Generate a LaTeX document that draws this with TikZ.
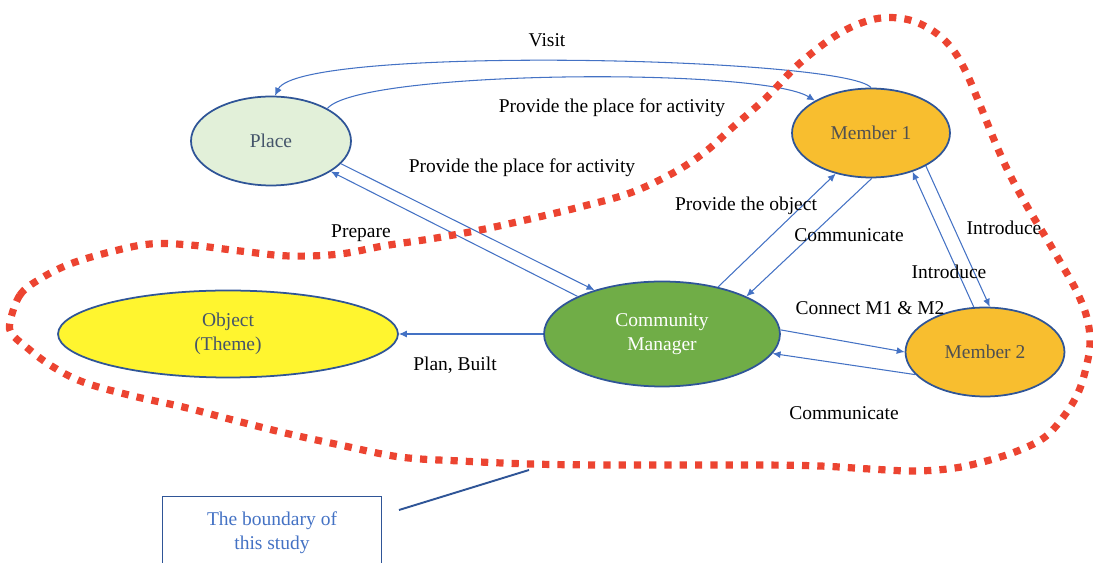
\documentclass[tikz,border=0pt]{standalone}
\usepackage{fontspec}
\setmainfont{Liberation Serif}
\usetikzlibrary{shapes.geometric,arrows.meta}
\definecolor{edgeblue}{HTML}{4472C4}
\definecolor{borderblue}{HTML}{2F5597}
\definecolor{boundred}{HTML}{EC4431}
\definecolor{placefill}{HTML}{E2F0D9}
\definecolor{memberfill}{HTML}{F8BE2F}
\definecolor{cmfill}{HTML}{70AD47}
\definecolor{objfill}{HTML}{FFF52F}
\definecolor{slate}{HTML}{44546A}
\definecolor{darkgray}{HTML}{505050}
\begin{document}
\begin{tikzpicture}[x=0.02cm,y=-0.02cm,
  font=\fontsize{11.1}{13.6}\selectfont,
  ell/.style={ellipse, draw=borderblue, line width=1pt, inner sep=0pt, align=center},
  arr/.style={draw=edgeblue, line width=0.6pt, -{Latex[length=4.5pt,width=4pt]}},
  lbl/.style={inner sep=0pt, text=black},
  bound/.style={draw=boundred, line width=4.1pt, dash pattern=on 4.1pt off 4.6pt}]
\useasboundingbox (0,0) rectangle (1093,563);

% nodes
\node[ell, fill=placefill, text=slate, minimum width=3.2cm, minimum height=1.78cm] (place) at (271,141) {Place};
\node[ell, fill=memberfill, text=darkgray, minimum width=3.16cm, minimum height=1.78cm] (m1) at (871,133) {Member 1};
\node[ell, fill=cmfill, text=white, minimum width=4.72cm, minimum height=2.1cm] (cm) at (662,334) {Community\\Manager};
\node[ell, fill=objfill, text=slate, minimum width=6.8cm, minimum height=1.74cm] (obj) at (228,334) {Object\\(Theme)};
\node[ell, fill=memberfill, text=darkgray, minimum width=3.18cm, minimum height=1.78cm] (m2) at (985,352) {Member 2};

% boundary box
\node[draw=borderblue, line width=1pt, minimum width=4.38cm, minimum height=1.46cm, text=edgeblue, align=center, inner sep=0pt] (box) at (272,533) {The boundary of\\this study};
\coordinate (bA) at (399,510);
\coordinate (bB) at (529,470);
\draw[draw=borderblue, line width=1.1pt] (bA) -- (bB);

% edges
\draw[arr] (m1.90) .. controls (845,57) and (300,45) .. (place.85);
\draw[arr] (place.30) .. controls (360,70) and (760,67) .. (m1.150);
\draw[arr] (cm.156) -- (place.-27);
\draw[arr] (place.-18) -- (cm.147);
\draw[arr] (cm.40) -- (m1.-131);
\draw[arr] (m1.-89) -- (cm.24);
\draw[arr] (m1.-31) -- (m2.84);
\draw[arr] (m2.104) -- (m1.-43);
\draw[arr] (cm.2) -- (m2.180);
\draw[arr] (m2.198) -- (cm.-10);
\draw[arr] (cm.west) -- (obj.east);

% labels
\node[lbl] (lvisit) at (547,40) {Visit};
\node[lbl] (lprov1) at (612,108) {Provide the place for activity};
\node[lbl] (lprov2) at (522,168) {Provide the place for activity};
\node[lbl] (lprep) at (361,233) {Prepare};
\node[lbl] (lobj) at (746,206) {Provide the object};
\node[lbl] (lcomm1) at (849,235) {Communicate};
\node[lbl] (lintro1) at (1004,228) {Introduce};
\node[lbl] (lintro2) at (949,272) {Introduce};
\node[lbl] (lconn) at (870,308) {Connect M1 \& M2};
\node[lbl] (lcomm2) at (844,413) {Communicate};
\node[lbl] (lplan) at (455,365) {Plan, Built};

% study boundary
\draw[bound] plot[smooth cycle, tension=0.6] coordinates {
(10,322) (20,295) (40,279) (70,264) (110,252) (150,244) (190,245) (240,251)
(290,256) (340,254) (383,246) (430,239) (480,230) (530,219) (580,207) (630,193)
(673,173) (705,152) (733,127) (767,97) (800,63) (840,33) (875,19) (905,19)
(930,29) (950,46) (965,70) (980,105) (995,142) (1010,175) (1028,208) (1045,236)
(1062,265) (1077,292) (1087,318) (1090,343) (1086,368) (1078,393) (1064,416)
(1045,437) (1020,450) (990,460) (955,468) (915,471) (870,469) (820,466) (760,465)
(680,465) (600,465) (530,464) (460,461) (400,457) (340,445) (285,433) (233,420)
(183,407) (133,396) (83,382) (50,365) (25,346) (12,334)};
\end{tikzpicture}
\end{document}
